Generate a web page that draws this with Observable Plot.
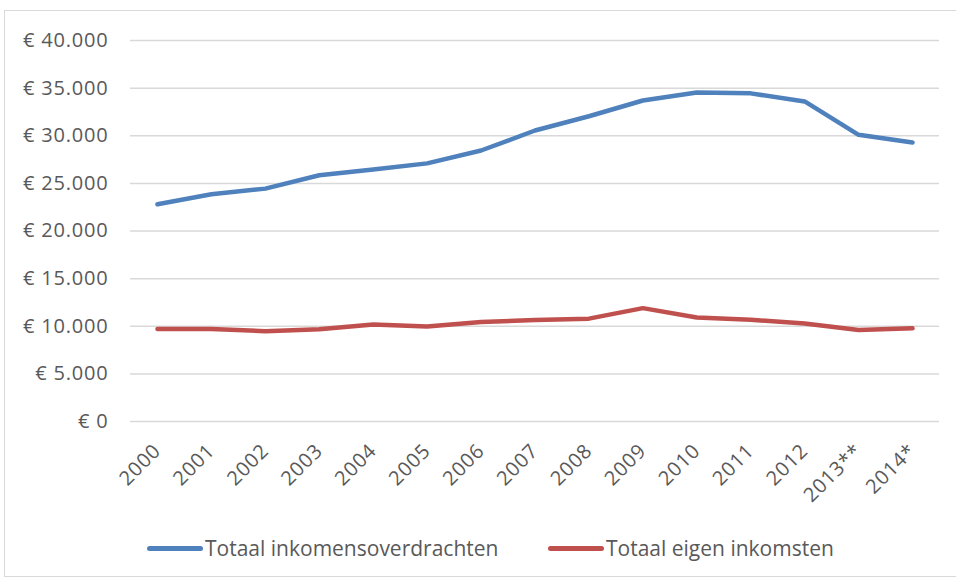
<!DOCTYPE html>
<html>
<head>
<meta charset="utf-8">
<script src="https://cdn.jsdelivr.net/npm/d3@7"></script>
<script src="https://cdn.jsdelivr.net/npm/@observablehq/plot@0.6"></script>
<style>
  html, body { margin: 0; padding: 0; background: #fff; }
  body { width: 956px; height: 581px; position: relative; overflow: hidden; font-family: "Open Sans", sans-serif; }
  #frame { position: absolute; left: 4px; top: 10px; width: 970px; height: 567px; border: 1px solid #d9d9d9; box-sizing: border-box; }
  #chart { position: absolute; left: 0; top: 0; }
  #chart svg { overflow: visible; }
  #chart text { letter-spacing: 0.8px; }
  #legend { position: absolute; left: 0; top: 532px; width: 956px; height: 32px; font-size: 21px; color: #595959; }
  .item { position: absolute; top: 0; display: flex; align-items: center; height: 32px; }
  .sw { width: 56px; height: 5px; border-radius: 3px; margin-right: 2px; }
</style>
</head>
<body>
<div id="frame"></div>
<div id="chart"></div>
<div id="legend"></div>
<script>
const years = ["2000","2001","2002","2003","2004","2005","2006","2007","2008","2009","2010","2011","2012","2013**","2014*"];
const inkomensoverdrachten = [22800, 23850, 24450, 25850, 26450, 27100, 28450, 30550, 32050, 33700, 34550, 34450, 33600, 30100, 29300];
const eigenInkomsten = [9700, 9720, 9480, 9680, 10180, 9970, 10450, 10650, 10800, 11900, 10920, 10680, 10280, 9600, 9780];
const seriesNames = ["Totaal inkomensoverdrachten", "Totaal eigen inkomsten"];
const seriesColors = ["#4F81BD", "#C0504D"];
const yTicks = [0, 5000, 10000, 15000, 20000, 25000, 30000, 35000, 40000];

const data = [];
years.forEach((y, i) => {
  data.push({year: y, value: inkomensoverdrachten[i], series: seriesNames[0]});
  data.push({year: y, value: eigenInkomsten[i], series: seriesNames[1]});
});

const fmt = v => "€ " + d3.format(",")(v).replace(/,/g, ".");

const chart = Plot.plot({
  width: 956,
  height: 525,
  marginLeft: 130,
  marginRight: 17,
  marginTop: 40,
  marginBottom: 104,
  style: {fontFamily: "Open Sans", fontSize: "20px", color: "#595959", background: "transparent"},
  x: {type: "point", domain: years, range: [130, 939], padding: 0.5, round: false, label: null},
  y: {domain: [0, 40000], label: null},
  color: {domain: seriesNames, range: seriesColors},
  marks: [
    Plot.gridY(yTicks, {stroke: "#d9d9d9", strokeOpacity: 1, strokeWidth: 1.5}),
    Plot.axisY(yTicks, {tickSize: 0, tickPadding: 22, tickFormat: fmt, fill: "#595959", label: null}),
    Plot.axisX(years, {tickSize: 0, tickRotate: -45, tickPadding: 26, fill: "#595959", label: null}),
    Plot.line(data, {x: "year", y: "value", z: "series", stroke: "series", strokeWidth: 4.5, strokeLinejoin: "round", strokeLinecap: "round"})
  ]
});
document.getElementById("chart").appendChild(chart);

const legend = document.getElementById("legend");
const lefts = [147, 548];
seriesNames.forEach((n, i) => {
  const it = document.createElement("div");
  it.className = "item";
  it.style.left = lefts[i] + "px";
  const sw = document.createElement("div");
  sw.className = "sw";
  sw.style.background = seriesColors[i];
  const t = document.createElement("span");
  t.textContent = n;
  it.appendChild(sw); it.appendChild(t);
  legend.appendChild(it);
});
</script>
</body>
</html>
